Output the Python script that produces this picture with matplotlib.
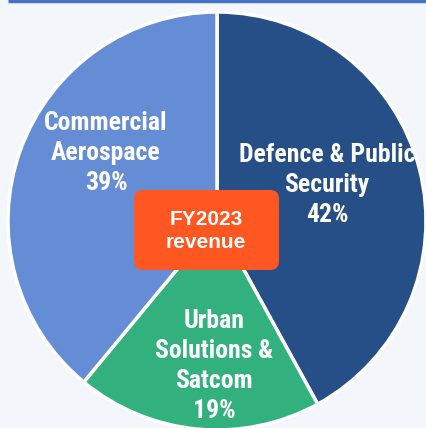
import matplotlib.pyplot as plt
from matplotlib.patches import FancyBboxPatch

segments = ["Defence & Public\nSecurity", "Urban\nSolutions &\nSatcom", "Commercial\nAerospace"]
shares = [42, 19, 39]
colors = ["#254F86", "#32B17F", "#648DD5"]

plt.rcParams['font.family'] = ['Liberation Sans', 'DejaVu Sans']

fig = plt.figure(figsize=(4.27, 4.28), dpi=100)
fig.patch.set_facecolor("#F3F7FB")
ax = fig.add_axes([0, 0, 1, 1])
ax.set_facecolor("#F3F7FB")

H = 428
cx, cy, r = 217, H - 221, 209
ax.pie(shares, colors=colors, startangle=90, counterclock=False,
       center=(cx, cy), radius=r, frame=True,
       wedgeprops=dict(edgecolor="white", linewidth=2.5))

# label positions (pixel coords from top)
label_pos = [(327, 185), (214, 366), (106, 153)]
for name, pct, (x, y) in zip(segments, shares, label_pos):
    ax.text(x, H - y, name + "\n" + str(pct) + "%", ha="center", va="center",
            color="white", fontsize=18.5, fontweight="bold", linespacing=1.3,
            family=['Roboto Condensed', 'Liberation Sans'])

box = FancyBboxPatch((134, H - 270), 145, 80, boxstyle="round,pad=0,rounding_size=9",
                     facecolor="#FF5722", edgecolor="none", zorder=5)
ax.add_patch(box)
ax.text(206, H - 231, "FY2023\nrevenue", ha="center", va="center", color="white",
        fontsize=15, fontweight="bold", linespacing=1.25, zorder=6)

# top rule
ax.plot([8, 427], [H - 1, H - 1], color="#4472C4", linewidth=2.5, solid_capstyle="butt")

ax.set_xlim(0, 427)
ax.set_ylim(0, H)
ax.set_aspect("auto")
ax.axis("off")

fig.savefig("out.png", dpi=100, facecolor=fig.get_facecolor())
